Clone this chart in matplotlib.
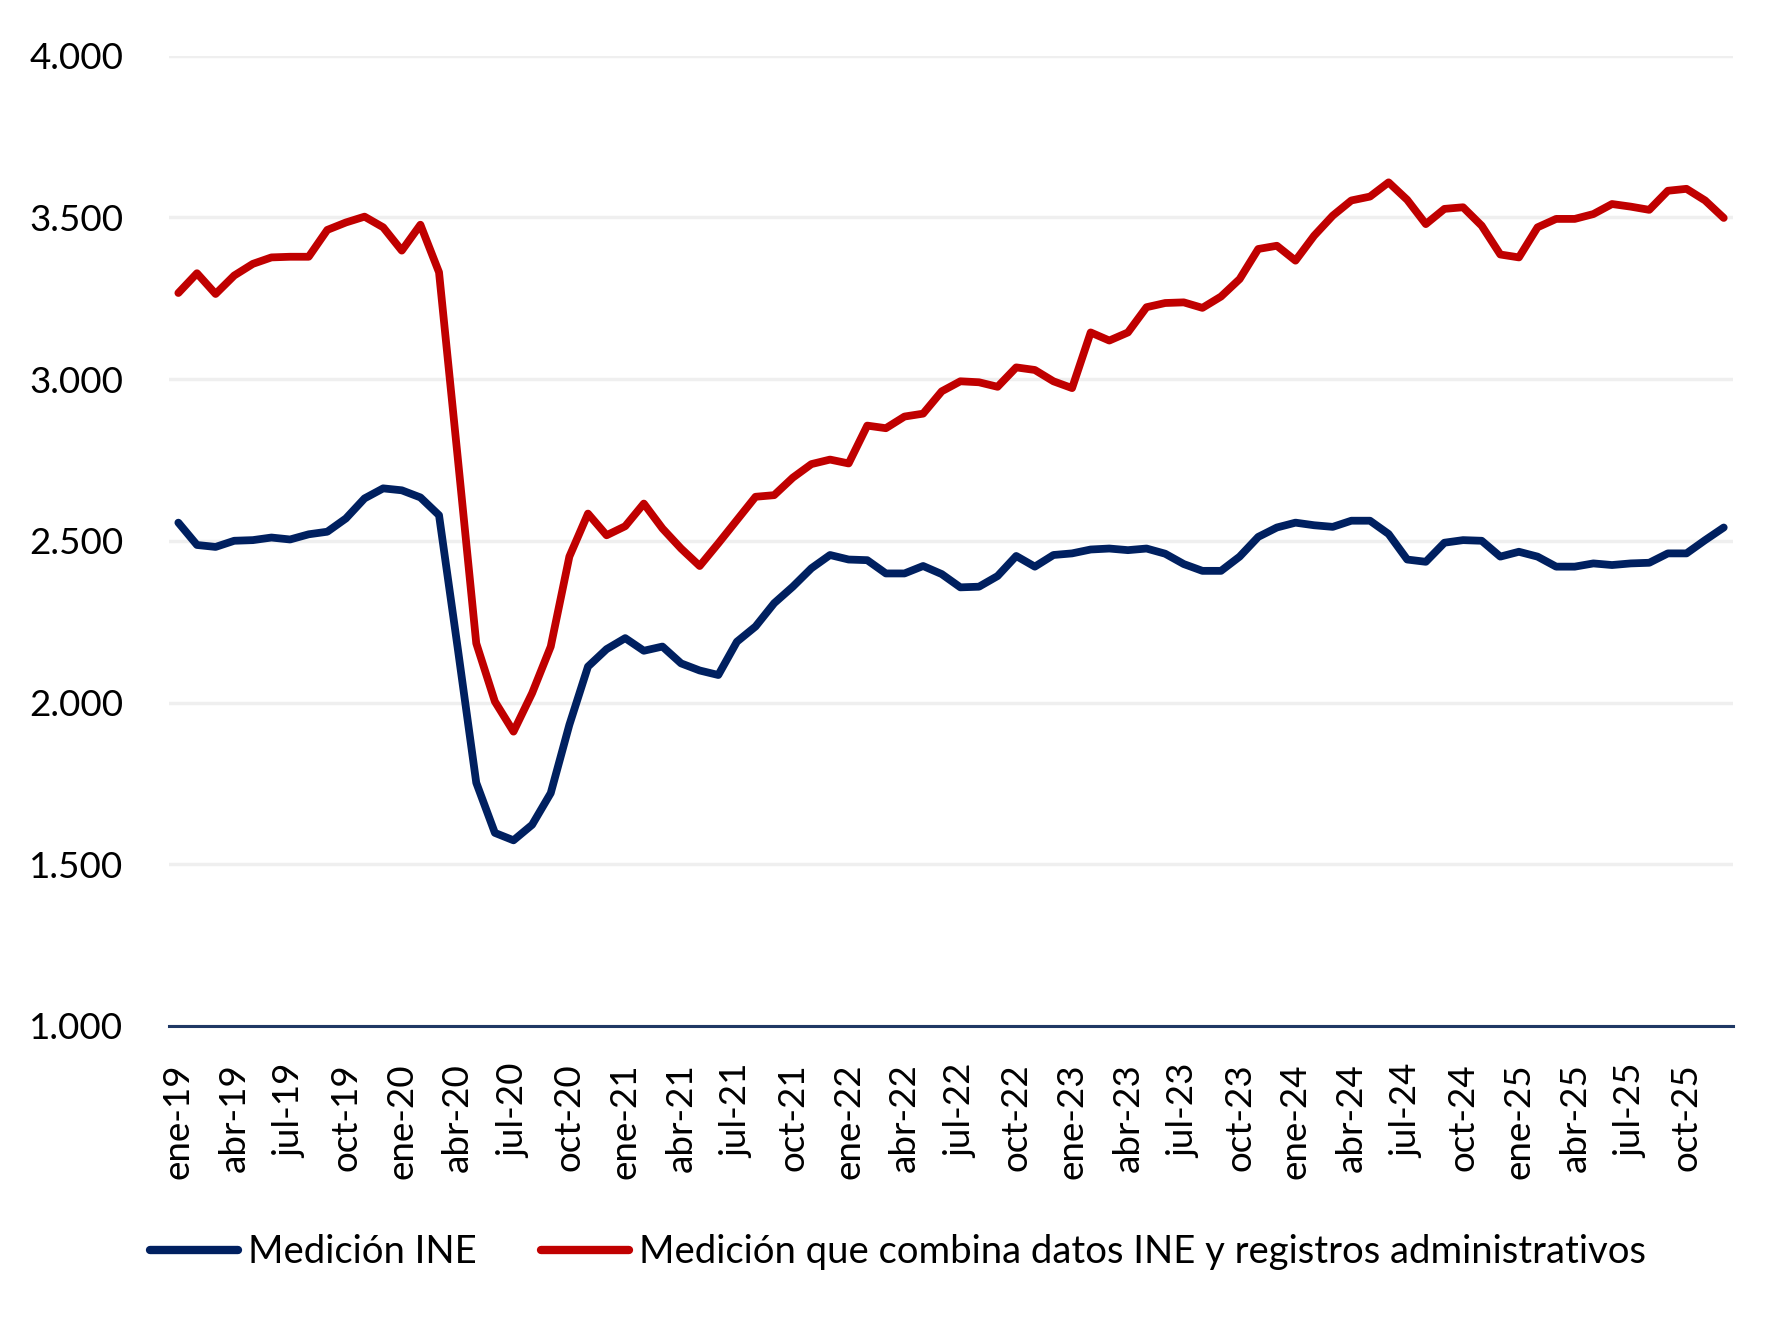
import matplotlib
matplotlib.use("Agg")
import matplotlib.pyplot as plt
import numpy as np

months = ['ene', 'feb', 'mar', 'abr', 'may', 'jun', 'jul', 'ago', 'sep', 'oct', 'nov', 'dic']
years = ['19', '20', '21', '22', '23', '24', '25']
categories = [f"{m}-{y}" for y in years for m in months]

ine = [
    2556, 2487, 2481, 2500, 2502, 2510, 2504, 2520, 2528, 2569, 2631, 2662,
    2656, 2634, 2579, 2170, 1752, 1597, 1574, 1622, 1720, 1931, 2111, 2165,
    2199, 2160, 2173, 2121, 2099, 2085, 2188, 2235, 2307, 2358, 2415, 2456,
    2442, 2440, 2399, 2399, 2422, 2397, 2356, 2358, 2391, 2453, 2420, 2456,
    2461, 2473, 2476, 2471, 2476, 2460, 2428, 2407, 2407, 2451, 2512, 2541,
    2556, 2548, 2543, 2562, 2562, 2521, 2442, 2435, 2494, 2502, 2500, 2451,
    2466, 2451, 2420, 2420, 2430, 2425, 2430, 2432, 2461, 2461, 2502, 2541,
]
combinada = [
    3266, 3327, 3263, 3320, 3356, 3376, 3378, 3378, 3461, 3484, 3502, 3469,
    3397, 3477, 3330, 2760, 2183, 2003, 1910, 2029, 2173, 2451, 2584, 2517,
    2545, 2615, 2538, 2476, 2422, 2492, 2564, 2636, 2641, 2695, 2737, 2751,
    2739, 2856, 2848, 2884, 2893, 2962, 2993, 2990, 2976, 3036, 3028, 2993,
    2972, 3144, 3119, 3144, 3222, 3235, 3237, 3220, 3255, 3309, 3402, 3412,
    3366, 3443, 3505, 3552, 3564, 3608, 3554, 3479, 3526, 3531, 3474, 3385,
    3376, 3469, 3495, 3495, 3510, 3541, 3533, 3523, 3582, 3588, 3552, 3498,
]
yticks = [1000, 1500, 2000, 2500, 3000, 3500, 4000]
ytick_labels = ['1.000', '1.500', '2.000', '2.500', '3.000', '3.500', '4.000']
series_names = ['Medición INE',
                'Medición que combina datos INE y registros administrativos']

plt.rcParams['font.family'] = ['Lato', 'DejaVu Sans']

fig = plt.figure(figsize=(17.87, 13.29), dpi=100)
ax = fig.add_axes([0.0946, 0.228, 0.9698 - 0.0946, 0.9582 - 0.228])

x = np.arange(len(categories))
blue = '#002060'
red = '#C00000'
ax.plot(x, ine, color=blue, lw=5.6, solid_joinstyle='round', solid_capstyle='round',
        label=series_names[0], zorder=3)
ax.plot(x, combinada, color=red, lw=5.6, solid_joinstyle='round', solid_capstyle='round',
        label=series_names[1], zorder=3)

ax.set_xlim(-0.5, len(categories) - 0.5)
ax.set_ylim(1000, 4000)
ax.set_yticks(yticks)
ax.set_yticklabels(ytick_labels)
ax.set_xticks(x[::3])
ax.set_xticklabels(categories[::3], rotation=90, va='top', ha='center')

ax.grid(axis='y', color='#EFEFEF', lw=2.5, zorder=0)
ax.set_axisbelow(True)
for s in ['top', 'right', 'left']:
    ax.spines[s].set_visible(False)
ax.spines['bottom'].set_color('#1F3864')
ax.spines['bottom'].set_linewidth(2.2)
ax.spines['bottom'].set_zorder(4)
ax.tick_params(axis='both', length=0, labelsize=26.5, colors='black')
ax.tick_params(axis='y', pad=33)
ax.tick_params(axis='x', pad=27)

leg = fig.legend(loc='center', bbox_to_anchor=(0.5025, 0.058), ncol=2, frameon=False,
                 fontsize=27.5, handlelength=2.3, handletextpad=0.25, columnspacing=1.7)
for h in leg.get_lines():
    h.set_linewidth(6)
    h.set_solid_capstyle('round')

fig.savefig('out.png', dpi=100)
